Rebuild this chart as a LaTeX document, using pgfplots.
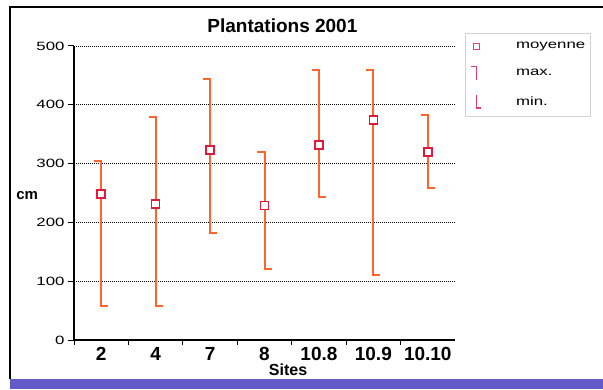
\documentclass[border=0pt]{standalone}
\usepackage{pgfplots}
\pgfplotsset{compat=1.18}
\usepackage{pgfplotstable}
\usepackage{fontspec}
\setmainfont{Liberation Sans}
\newfontfamily\widefont[FakeStretch=1.4]{Liberation Sans}
\definecolor{errcol}{RGB}{255,100,45}
\definecolor{meancol}{RGB}{225,25,60}
\definecolor{legpink}{RGB}{230,60,120}
\definecolor{barblue}{RGB}{100,90,200}
\pgfdeclareplotmark{capl}{\pgfpathmoveto{\pgfqpoint{-7pt}{0pt}}\pgfpathlineto{\pgfqpoint{1pt}{0pt}}\pgfusepathqstroke}
\pgfdeclareplotmark{capr}{\pgfpathmoveto{\pgfqpoint{-1pt}{0pt}}\pgfpathlineto{\pgfqpoint{7pt}{0pt}}\pgfusepathqstroke}
\pgfplotstableread{
x max mean min
0 305 248 57
1 380 231 57
2 444 323 182
3 319 229 121
4 460 332 243
5 460 374 110
6 383 320 258
}\datatab
\begin{document}
\begin{tikzpicture}
\useasboundingbox (0,0) rectangle (603pt,389pt);
\fill[white] (0,0) rectangle (603pt,389pt);
\fill[barblue] (10pt,0pt) rectangle (603pt,10pt);
\draw[black, line width=2pt] (10pt,10pt) -- (10pt,382pt) -- (603pt,382pt);
\begin{axis}[
  at={(74pt,49pt)}, anchor=south west,
  scale only axis, width=381pt, height=294pt,
  xmin=-0.5, xmax=6.5, ymin=0, ymax=500,
  axis x line*=bottom, axis y line*=left,
  axis line style={black, line width=1.3pt},
  xtick={0,...,6}, xticklabels={2,4,7,8,10.8,10.9,10.10},
  minor xtick={-0.5,0.5,1.5,2.5,3.5,4.5,5.5},
  ytick={0,100,...,500},
  tick align=outside,
  major tick length=6pt, minor tick length=5pt,
  tick style={black, line width=1pt},
  major x tick style={draw=none},
  ymajorgrids,
  major grid style={black, line width=0.9pt, dash pattern=on 1pt off 1pt},
  /pgf/number format/assume math mode=true,
  yticklabel style={font=\widefont\fontsize{12}{14}\selectfont},
  xticklabel style={font=\fontsize{19}{22}\selectfont\bfseries, yshift=2pt},
  title={Plantations 2001},
  title style={font=\fontsize{19}{22}\selectfont\bfseries, at={(axis description cs:0.547,1.05)}, anchor=center},
  xlabel={Sites},
  xlabel style={font=\fontsize{16}{18}\selectfont\bfseries, at={(axis description cs:0.562,-0.1)}, anchor=center},
  ylabel={cm},
  ylabel style={font=\fontsize{15}{17}\selectfont\bfseries, rotate=-90, at={(axis description cs:-0.123,0.493)}, anchor=center},
  legend style={at={(axis description cs:1.026,1.044)}, anchor=north west,
    draw=gray!35, fill=white, font=\widefont\fontsize{12}{14}\selectfont,
    row sep=14pt, inner ysep=7pt, inner xsep=3pt},
  legend cell align=left,
]
\addlegendimage{legend image code/.code={\path[draw=none,fill=none] (-8pt,0) -- (38pt,0);
    \draw[legpink, fill=white, line width=1.2pt] (-3pt,-3pt) rectangle (3pt,3pt);}}
\addlegendentry{moyenne}
\addlegendimage{legend image code/.code={\path[draw=none,fill=none] (-8pt,0) -- (38pt,0);
    \draw[legpink, line width=1.2pt] (-5pt,6pt) -- (0pt,6pt) -- (0pt,-7pt);}}
\addlegendentry{max.}
\addlegendimage{legend image code/.code={\path[draw=none,fill=none] (-8pt,0) -- (38pt,0);
    \draw[legpink, line width=1.2pt] (0pt,7pt) -- (0pt,-6pt) -- (5pt,-6pt);}}
\addlegendentry{min.}
\addplot[errcol, line width=2pt, unbounded coords=jump, forget plot] coordinates {
  (0,57) (0,305) (0,nan)
  (1,57) (1,380) (1,nan)
  (2,182) (2,444) (2,nan)
  (3,121) (3,319) (3,nan)
  (4,243) (4,460) (4,nan)
  (5,110) (5,460) (5,nan)
  (6,258) (6,383)
};
\addplot[only marks, mark=capl, errcol, mark options={line width=2pt}, forget plot]
  table[x=x, y=max] {\datatab};
\addplot[only marks, mark=capr, errcol, mark options={line width=2pt}, forget plot]
  table[x=x, y=min] {\datatab};
\addplot[only marks, mark=square*, mark size=4pt, mark options={draw=meancol, fill=white, line width=1.5pt}, forget plot]
  table[x=x, y=mean] {\datatab};
\end{axis}
\end{tikzpicture}
\end{document}
